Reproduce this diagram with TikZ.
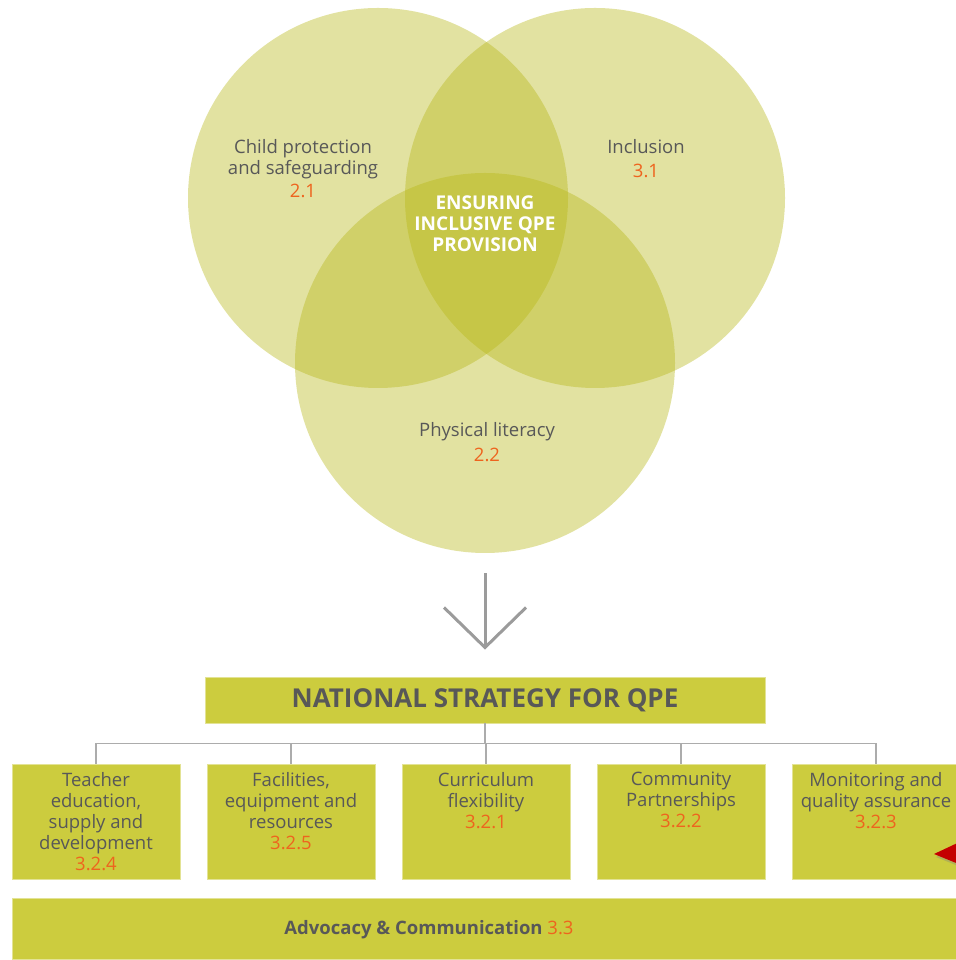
\documentclass[tikz,border=0pt]{standalone}
\usepackage{fontspec}
\setmainfont{Open Sans}
\usetikzlibrary{arrows.meta,positioning,shadows}

\definecolor{venn}{RGB}{182,182,20}
\definecolor{qpegreen}{RGB}{204,204,62}
\definecolor{qpegray}{RGB}{88,88,88}
\definecolor{qpeorange}{RGB}{238,100,30}
\definecolor{linegray}{RGB}{172,172,172}
\definecolor{markred}{RGB}{196,0,0}
\newcommand{\secnum}[1]{{\color{qpeorange}#1}}

\begin{document}
\begin{tikzpicture}[x=1pt, y=1pt,
    ring/.style={circle, fill=venn, fill opacity=0.4, minimum size=380pt, inner sep=0pt},
    vlabel/.style={align=center, font=\fontsize{18.5}{21}\selectfont, text=qpegray},
    core/.style={align=center, font=\fontsize{19}{21}\selectfont\bfseries, text=white},
    bar/.style={fill=qpegreen, draw=qpegreen!55!white, line width=0.8pt, inner sep=0pt},
    pillar/.style={bar, minimum width=168pt, minimum height=115pt},
    pillartext/.style={vlabel, anchor=north},
    tree/.style={draw=linegray, line width=1.2pt},
    downarrow/.style={-{Straight Barb[length=40pt, width=82pt, line width=3pt]}, draw=linegray!90!black, line width=3pt}
  ]
    \useasboundingbox (0,0) rectangle (955,960);

    % venn part
    \node[ring] (protect) at (378,762) {};
    \node[ring] (inclusion) at (595,762) {};
    \node[ring] (literacy) at (485,597) {};

    \node[vlabel] (protecttxt) at (303,791) {Child protection\\and safeguarding\\[2pt]\secnum{2.1}};
    \node[vlabel] (inclusiontxt) at (646,801) {Inclusion\\[3pt]\secnum{3.1}};
    \node[vlabel] (literacytxt) at (487,518) {Physical literacy\\[4pt]\secnum{2.2}};
    \node[core] (centre) at (485,736) {ENSURING\\INCLUSIVE QPE\\PROVISION};

    % strategy
    \node[bar, minimum width=560pt, minimum height=46pt,
      font=\fontsize{26}{28}\selectfont\bfseries, text=qpegray] (strategy) at (485,260) {NATIONAL STRATEGY FOR QPE};

    \draw[downarrow] ([yshift=-20pt]literacy.south) -- ([yshift=27pt]strategy.north);

    \foreach \n/\x/\txt in {
        teacher/96/{Teacher\\education,\\supply and\\development\\\secnum{3.2.4}},
        facilities/291/{Facilities,\\equipment and\\resources\\\secnum{3.2.5}},
        curriculum/486/{Curriculum\\flexibility\\\secnum{3.2.1}},
        community/681/{Community\\Partnerships\\\secnum{3.2.2}},
        monitoring/876/{Monitoring and\\quality assurance\\\secnum{3.2.3}}} {
      \node[pillar] (\n) at (\x,138.5) {};
      \node[pillartext, below=5pt of \n.north] (\n txt) {\txt};
      \draw[tree] (strategy.south) -- ++(0,-20) -| (\n.north);
    }

    % advocacy bar
    \node[bar, minimum width=960pt, minimum height=61pt, anchor=south west] (advocacy) at (12,0) {};
    \node[font=\fontsize{18.5}{22}\selectfont, text=qpegray] (advocacytxt) at (429,30)
      {\textbf{Advocacy \& Communication} \secnum{3.3}};

    % pointer
    \fill[markred, drop shadow={opacity=0.35, shadow xshift=2pt, shadow yshift=-3pt}]
      (934,106) -- (966,121) -- (966,93) -- cycle;
  \end{tikzpicture}
\end{document}
